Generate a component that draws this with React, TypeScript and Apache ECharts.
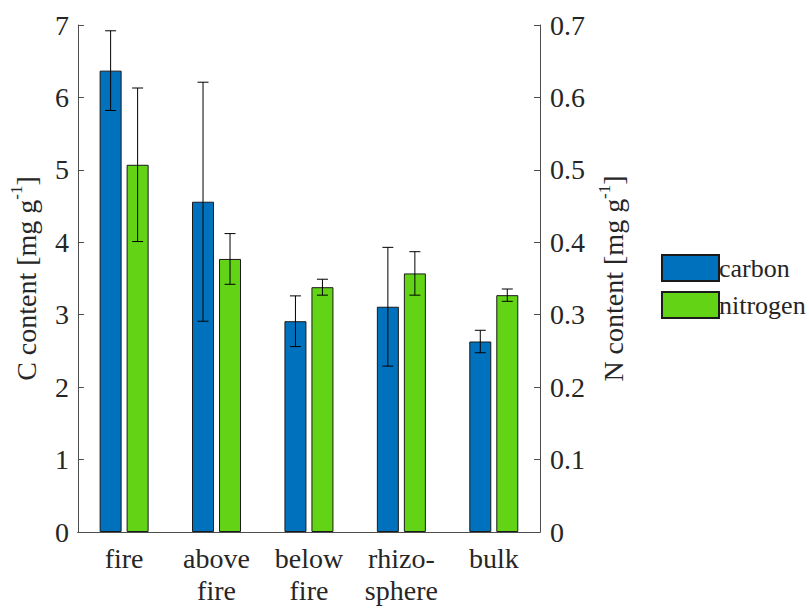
import React, { useEffect, useRef } from "react";
import * as echarts from "echarts";

// Sample categories and measured means with standard errors
const categories = ["fire", "above\nfire", "below\nfire", "rhizo-\nsphere", "bulk"];
const carbon = [6.37, 4.56, 2.91, 3.11, 2.63];
const carbonErr = [0.55, 1.65, 0.35, 0.82, 0.155];
const nitrogen = [0.507, 0.377, 0.338, 0.357, 0.327];
const nitrogenErr = [0.106, 0.035, 0.011, 0.03, 0.0085];

const cTicks = [0, 1, 2, 3, 4, 5, 6, 7];
const nTicks = [0, 0.1, 0.2, 0.3, 0.4, 0.5, 0.6, 0.7];

const BAR_W = 22;
const BAR_GAP = 5;
const CAP_W = 11;
const FONT = "Liberation Serif, serif";
const TEXT = "#262626";
const AXIS = "#4d4d4d";
const SWATCH = "path://M0,0H57V26H0Z";

function errorSeries(name: string, means: number[], errs: number[], yAxisIndex: number, dx: number) {
  return {
    type: "custom",
    name,
    yAxisIndex,
    z: 10,
    silent: true,
    data: means.map((m, i) => [i, m - errs[i], m + errs[i]]),
    renderItem: (params: any, api: any) => {
      const i = api.value(0);
      const lo = api.coord([i, api.value(1)]);
      const hi = api.coord([i, api.value(2)]);
      const x = lo[0] + dx;
      const style = { stroke: "#000", lineWidth: 1 };
      return {
        type: "group",
        children: [
          { type: "line", shape: { x1: x, y1: lo[1], x2: x, y2: hi[1] }, style },
          { type: "line", shape: { x1: x - CAP_W / 2, y1: lo[1], x2: x + CAP_W / 2, y2: lo[1] }, style },
          { type: "line", shape: { x1: x - CAP_W / 2, y1: hi[1], x2: x + CAP_W / 2, y2: hi[1] }, style },
        ],
      };
    },
  };
}

export default function App() {
  const ref = useRef<HTMLDivElement>(null);

  useEffect(() => {
    if (!ref.current) return;
    const chart = echarts.init(ref.current, undefined, { renderer: "svg" });
    const half = (BAR_W + BAR_GAP) / 2;
    const ts = { fontSize: 28, fontFamily: FONT, fontWeight: "normal", color: TEXT };

    const titleRich = {
      base: { ...ts, lineHeight: 36 },
      sup: { ...ts, fontSize: 17, verticalAlign: "top", lineHeight: 14 },
    };

    chart.setOption({
      animation: false,
      backgroundColor: "#fff",
      grid: { left: 74, right: 269, top: 25, bottom: 78, containLabel: false },
      legend: {
        data: [
          { name: "carbon", icon: SWATCH },
          { name: "nitrogen", icon: SWATCH },
        ],
        orient: "vertical",
        left: 656,
        top: 249,
        itemWidth: 57,
        itemHeight: 26,
        itemGap: 9,
        textStyle: { ...ts, fontSize: 26, padding: [0, 0, 0, -5] },
      },
      xAxis: [
        {
          type: "category",
          data: categories,
          position: "bottom",
          axisLine: { lineStyle: { color: AXIS, width: 1 } },
          axisTick: { inside: true, alignWithLabel: true, length: 5, lineStyle: { color: AXIS } },
          axisLabel: { ...ts, lineHeight: 32, margin: 10, interval: 0 },
        },
        {
          type: "category",
          data: categories,
          position: "top",
          axisLine: { lineStyle: { color: AXIS, width: 1 } },
          axisTick: { inside: true, alignWithLabel: true, length: 5, lineStyle: { color: AXIS } },
          axisLabel: { show: false },
        },
      ],
      yAxis: [
        {
          type: "value",
          min: cTicks[0],
          max: cTicks[cTicks.length - 1],
          interval: 1,
          position: "left",
          name: "{base|C content [mg g}{sup|-1}{base|]}",
          nameLocation: "middle",
          nameRotate: 90,
          nameGap: 20,
          nameTextStyle: { ...ts, lineHeight: 36, rich: titleRich },
          axisLine: { show: true, lineStyle: { color: AXIS, width: 1 } },
          axisTick: { show: true, inside: true, length: 6, lineStyle: { color: AXIS } },
          axisLabel: { ...ts, margin: 9 },
          splitLine: { show: false },
        },
        {
          type: "value",
          min: nTicks[0],
          max: nTicks[nTicks.length - 1],
          interval: 0.1,
          position: "right",
          name: "{base|N content [mg g}{sup|-1}{base|]}",
          nameLocation: "middle",
          nameRotate: 90,
          nameGap: 53,
          nameTextStyle: { ...ts, lineHeight: 36, rich: titleRich },
          axisLine: { show: true, lineStyle: { color: AXIS, width: 1 } },
          axisTick: { show: true, inside: true, length: 6, lineStyle: { color: AXIS } },
          axisLabel: {
            ...ts,
            margin: 10,
            formatter: (v: number) => (v === 0 ? "0" : v.toFixed(1)),
          },
          splitLine: { show: false },
        },
      ],
      series: [
        {
          type: "bar",
          name: "carbon",
          yAxisIndex: 0,
          data: carbon,
          barWidth: BAR_W,
          barGap: `${(BAR_GAP / BAR_W) * 100}%`,
          itemStyle: { color: "#0072BD", borderColor: "#1a1a1a", borderWidth: 1 },
        },
        {
          type: "bar",
          name: "nitrogen",
          yAxisIndex: 1,
          data: nitrogen,
          barWidth: BAR_W,
          barGap: `${(BAR_GAP / BAR_W) * 100}%`,
          itemStyle: { color: "#62D415", borderColor: "#1a1a1a", borderWidth: 1 },
        },
        errorSeries("carbon error", carbon, carbonErr, 0, -half),
        errorSeries("nitrogen error", nitrogen, nitrogenErr, 1, half),
      ],
    });

    return () => chart.dispose();
  }, []);

  return (
    <div
      ref={ref}
      style={{ position: "fixed", left: 0, top: 0, width: 809, height: 610, background: "#fff" }}
    />
  );
}
